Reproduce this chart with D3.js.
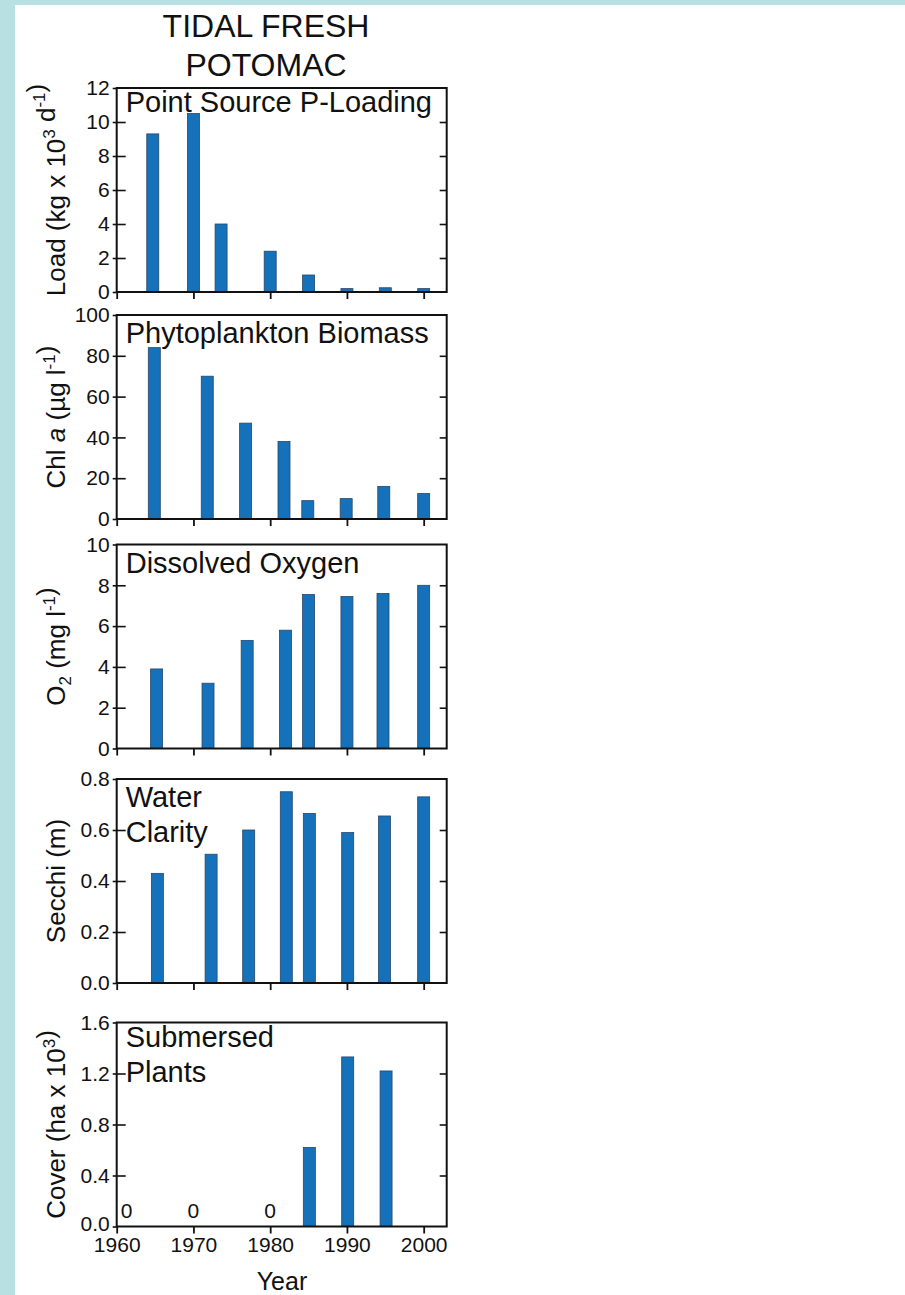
<!DOCTYPE html>
<html>
<head>
<meta charset="utf-8">
<script src="https://cdn.jsdelivr.net/npm/d3@7/dist/d3.min.js"></script>
<style>
  html, body { margin: 0; padding: 0; background: #b8dfe2; }
  svg { display: block; }
  text { font-family: "Liberation Sans", Arial, Helvetica, sans-serif; fill: #111; }
</style>
</head>
<body>
<script>
// Tidal fresh Potomac: five stacked bar panels sharing a year axis.

// Point source phosphorus loading (kg x 10^3 per day)
const loadYears  = [1964.7, 1970, 1973.6, 1980, 1985, 1990, 1995, 2000];
const loadValues = [9.3, 10.5, 4.0, 2.4, 1.0, 0.2, 0.25, 0.2];
const loadTicks  = [0, 2, 4, 6, 8, 10, 12];

// Phytoplankton biomass, chlorophyll a (µg/l)
const chlYears  = [1964.9, 1971.8, 1976.8, 1981.8, 1984.9, 1989.9, 1994.8, 2000];
const chlValues = [84, 70, 47, 38, 9, 10, 16, 12.5];
const chlTicks  = [0, 20, 40, 60, 80, 100];

// Dissolved oxygen (mg/l)
const doYears  = [1965.2, 1971.9, 1977, 1982, 1985, 1990, 1994.7, 2000];
const doValues = [3.9, 3.2, 5.3, 5.8, 7.55, 7.45, 7.6, 8.0];
const doTicks  = [0, 2, 4, 6, 8, 10];

// Water clarity, Secchi depth (m)
const secchiYears  = [1965.3, 1972.3, 1977.2, 1982.1, 1985.1, 1990.1, 1994.9, 2000];
const secchiValues = [0.43, 0.505, 0.6, 0.75, 0.665, 0.59, 0.655, 0.73];
const secchiTicks  = [0.0, 0.2, 0.4, 0.6, 0.8];

// Submersed plant cover (ha x 10^3)
const svYears  = [1961.3, 1970, 1980, 1985.1, 1990.1, 1995.1];
const svValues = [0, 0, 0, 0.62, 1.33, 1.22];
const svTicks  = [0.0, 0.4, 0.8, 1.2, 1.6];

const xTickYears = [1960, 1970, 1980, 1990, 2000];
const yearDomain = [1960, 2003];

const W = 905, H = 1295;
const svg = d3.select("body").append("svg").attr("width", W).attr("height", H);

svg.append("rect").attr("width", W).attr("height", H).attr("fill", "#b8dfe2");
svg.append("rect").attr("x", 15).attr("y", 5).attr("width", W - 15).attr("height", H - 5).attr("fill", "#fff");

const x = d3.scaleLinear().domain(yearDomain).range([116.7, 446.7]);
const barW = 12;
const panelH = 204;
const barFill = "#1572ba";
const barStroke = "#27476a";
const tickFont = "21px";

// Title
const title = svg.append("text").attr("text-anchor", "middle").style("font-size", "32px");
title.append("tspan").attr("x", 266).attr("y", 37).text("TIDAL FRESH");
title.append("tspan").attr("x", 266).attr("y", 75.5).text("POTOMAC");

const panels = [
  { top: 88,    years: loadYears,   values: loadValues,   ticks: loadTicks,   fmt: d3.format("d"),
    titleLines: ["Point Source P-Loading"], titleY: 24, ylabel: "load" },
  { top: 315,   years: chlYears,    values: chlValues,    ticks: chlTicks,    fmt: d3.format("d"),
    titleLines: ["Phytoplankton Biomass"], titleY: 28, ylabel: "chl" },
  { top: 544.5, years: doYears,     values: doValues,     ticks: doTicks,     fmt: d3.format("d"),
    titleLines: ["Dissolved Oxygen"], titleY: 28, ylabel: "do" },
  { top: 779,   years: secchiYears, values: secchiValues, ticks: secchiTicks, fmt: d3.format(".1f"),
    titleLines: ["Water", "Clarity"], titleY: 28, ylabel: "secchi" },
  { top: 1022.5, years: svYears,    values: svValues,     ticks: svTicks,     fmt: d3.format(".1f"),
    titleLines: ["Submersed", "Plants"], titleY: 24.5, ylabel: "cover", last: true }
];

panels.forEach(p => {
  const g = svg.append("g").attr("transform", `translate(0,${p.top})`);
  const y = d3.scaleLinear().domain([p.ticks[0], p.ticks[p.ticks.length - 1]]).range([panelH, 0]);
  const x0 = x.range()[0], x1 = x.range()[1];
  const data = p.years.map((yr, i) => ({ yr, v: p.values[i] }));

  // bars
  g.selectAll("rect.bar").data(data.filter(d => d.v > 0)).join("rect")
    .attr("class", "bar")
    .attr("x", d => x(d.yr) - barW / 2)
    .attr("width", barW)
    .attr("y", d => y(d.v))
    .attr("height", d => y(0) - y(d.v))
    .attr("fill", barFill)
    .attr("stroke", barStroke)
    .attr("stroke-width", 0.8);

  // zero-valued years are marked with their value as text
  g.selectAll("text.zero").data(data.filter(d => d.v === 0)).join("text")
    .attr("class", "zero")
    .attr("x", d => x(d.yr))
    .attr("y", y(0) - 9)
    .attr("text-anchor", "middle")
    .style("font-size", tickFont)
    .text(d => d.v);

  // left axis: labels outside, ticks crossing the frame
  const left = g.append("g").attr("transform", `translate(${x0},0)`)
    .call(d3.axisLeft(y).tickValues(p.ticks).tickFormat(p.fmt).tickSizeInner(0).tickSizeOuter(0).tickPadding(7));
  left.select(".domain").remove();
  left.selectAll("text").style("font-size", tickFont).attr("fill", "#111");
  // lowest label of the bottom panel sits just above the year labels
  if (p.last) left.selectAll("text").filter(d => d === p.ticks[0]).attr("dy", "0.2em");
  left.selectAll(".tick").append("line").attr("x1", -4).attr("x2", 9).attr("stroke", "#111").attr("stroke-width", 1.6);
  // end ticks sit on the frame itself
  left.selectAll(".tick line").filter(d => d === p.ticks[0] || d === p.ticks[p.ticks.length - 1]).attr("x2", 0);

  // right axis: inward ticks only
  const right = g.append("g").attr("transform", `translate(${x1},0)`)
    .call(d3.axisRight(y).tickValues(p.ticks.slice(1, -1)).tickSizeInner(-7).tickSizeOuter(0).tickFormat(""));
  right.select(".domain").remove();
  right.selectAll("line").attr("stroke", "#111").attr("stroke-width", 1.6);

  // bottom axis: outward ticks at every decade
  const bottom = g.append("g").attr("transform", `translate(0,${panelH})`)
    .call(d3.axisBottom(x).tickValues(xTickYears).tickSizeInner(7).tickSizeOuter(0)
      .tickFormat(p.last ? d3.format("d") : "").tickPadding(4));
  bottom.select(".domain").remove();
  bottom.selectAll("line").attr("stroke", "#111").attr("stroke-width", 1.8);
  bottom.selectAll("text").style("font-size", tickFont).attr("fill", "#111");

  // frame
  g.append("rect").attr("x", x0).attr("y", 0).attr("width", x1 - x0).attr("height", panelH)
    .attr("fill", "none").attr("stroke", "#111").attr("stroke-width", 2);

  // panel title
  const t = g.append("text").style("font-size", "29px");
  p.titleLines.forEach((line, i) => {
    t.append("tspan").attr("x", x0 + 9).attr("y", p.titleY + i * 34.5).text(line);
  });

  // rotated y label
  const yl = g.append("text")
    .attr("transform", `translate(65,${panelH / 2}) rotate(-90)`)
    .attr("text-anchor", "middle")
    .style("font-size", "26px");
  const sup = (sel, s) => {
    sel.append("tspan").attr("dy", -10).style("font-size", "17px").text(s);
    sel.append("tspan").attr("dy", 10).text("");
  };
  if (p.ylabel === "load") {
    yl.append("tspan").text("Load (kg x 10");
    sup(yl, "3");
    yl.append("tspan").text(" d");
    sup(yl, "-1");
    yl.append("tspan").text(")");
  } else if (p.ylabel === "chl") {
    yl.append("tspan").text("Chl ");
    yl.append("tspan").style("font-style", "italic").text("a");
    yl.append("tspan").text(" (µg l");
    sup(yl, "-1");
    yl.append("tspan").text(")");
  } else if (p.ylabel === "do") {
    yl.append("tspan").text("O");
    yl.append("tspan").attr("dy", 6).style("font-size", "17px").text("2");
    yl.append("tspan").attr("dy", -6).text(" (mg l");
    sup(yl, "-1");
    yl.append("tspan").text(")");
  } else if (p.ylabel === "secchi") {
    yl.text("Secchi (m)");
  } else {
    yl.append("tspan").text("Cover (ha x 10");
    sup(yl, "3");
    yl.append("tspan").text(")");
  }
});

// shared x label
svg.append("text").attr("x", 282).attr("y", 1290).attr("text-anchor", "middle")
  .style("font-size", "25px").text("Year");
</script>
</body>
</html>
